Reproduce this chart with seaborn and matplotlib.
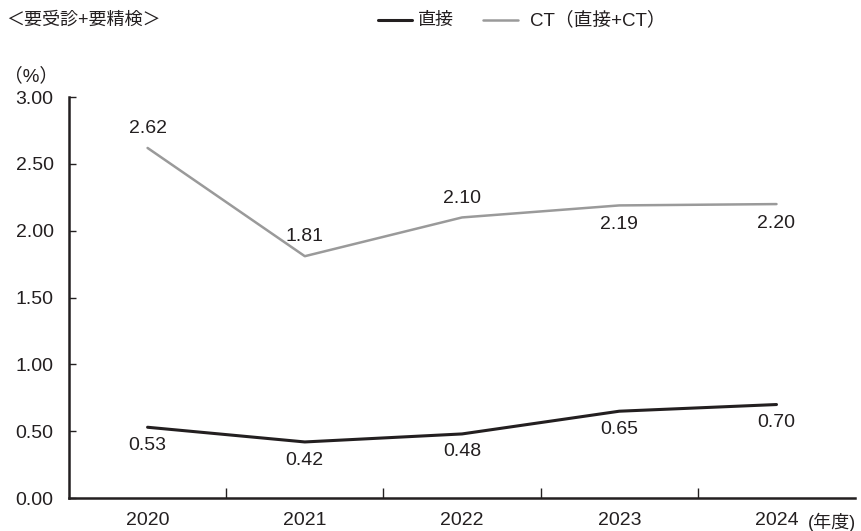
import matplotlib
matplotlib.use("Agg")
import matplotlib.pyplot as plt
from matplotlib.ticker import FixedLocator, FuncFormatter
import seaborn as sns
import pandas as pd

years = ["2020", "2021", "2022", "2023", "2024"]
direct = [0.53, 0.42, 0.48, 0.65, 0.70]
ct = [2.62, 1.81, 2.10, 2.19, 2.20]
series_names = ["直接", "CT（直接+CT）"]
yticks = [0.0, 0.5, 1.0, 1.5, 2.0, 2.5, 3.0]

sns.set_theme(style="white")
plt.rcParams["font.family"] = ["Liberation Sans", "Noto Sans CJK JP", "DejaVu Sans"]

BLACK = "#231f20"
GREY = "#9a9a9a"
TEXT = "#231f20"
FS = 14

df = pd.DataFrame({
    "x": list(range(len(years))) * 2,
    "value": direct + ct,
    "series": [series_names[0]] * len(years) + [series_names[1]] * len(years),
})

fig = plt.figure(figsize=(8.62, 5.31), dpi=100)
ax = fig.add_axes([0.080, 0.062, 0.912, 0.755])

sns.lineplot(data=df, x="x", y="value", hue="series",
             palette={series_names[0]: BLACK, series_names[1]: GREY},
             ax=ax, legend=False, sort=False)
for line, lw in zip(ax.lines, [2.2, 1.8]):
    line.set_linewidth(lw)

ax.set_xlim(-0.5, len(years) - 0.5)
ax.set_ylim(0, 3.0)
ax.set_xlabel("")
ax.set_ylabel("")

# axes styling
for side in ["top", "right"]:
    ax.spines[side].set_visible(False)
for side in ["left", "bottom"]:
    ax.spines[side].set_color(BLACK)
    ax.spines[side].set_linewidth(1.8)

ax.set_yticks(yticks)
ax.yaxis.set_major_formatter(FuncFormatter(lambda v, p: f"{v:.2f}"))
ax.tick_params(axis="y", direction="in", length=5, width=1.0, color=BLACK,
               labelsize=FS, labelcolor=TEXT, pad=11, left=True)

ax.set_xticks(range(len(years)))
ax.set_xticklabels(years)
ax.xaxis.set_minor_locator(FixedLocator([i + 0.5 for i in range(len(years) - 1)]))
ax.tick_params(axis="x", which="major", length=0, labelsize=FS, labelcolor=TEXT, pad=10)
ax.tick_params(axis="x", which="minor", direction="in", length=7, width=1.0,
               color=BLACK, bottom=True)

# value labels
ct_off = [14, 14, 14, -14, -14]
for i, v in enumerate(ct):
    ax.annotate(f"{v:.2f}", (i, v), xytext=(0, ct_off[i]), textcoords="offset points",
                ha="center", va="center", fontsize=FS, color=TEXT)
for i, v in enumerate(direct):
    ax.annotate(f"{v:.2f}", (i, v), xytext=(0, -13), textcoords="offset points",
                ha="center", va="center", fontsize=FS, color=TEXT)

# header texts
fig.text(6 / 862, 1 - 20 / 531, "＜要受診+要精検＞", ha="left", va="center",
         fontsize=13, color=TEXT)
fig.text(4 / 862, 1 - 76 / 531, "（%）", ha="left", va="center",
         fontsize=13.5, color=TEXT)
fig.text(808 / 862, 1 - 522 / 531, "(年度)", ha="left", va="center",
         fontsize=13, color=TEXT)

# legend
leg_y = 1 - 20 / 531
fig.add_artist(plt.Line2D([378 / 862, 412 / 862], [leg_y, leg_y], color=BLACK, lw=2.2))
fig.text(418 / 862, leg_y, series_names[0], ha="left", va="center", fontsize=13, color=TEXT)
fig.add_artist(plt.Line2D([483 / 862, 518 / 862], [leg_y, leg_y], color=GREY, lw=1.8))
fig.text(530 / 862, leg_y, series_names[1], ha="left", va="center", fontsize=13.5, color=TEXT)

fig.savefig("out.png", dpi=100, facecolor="white")
